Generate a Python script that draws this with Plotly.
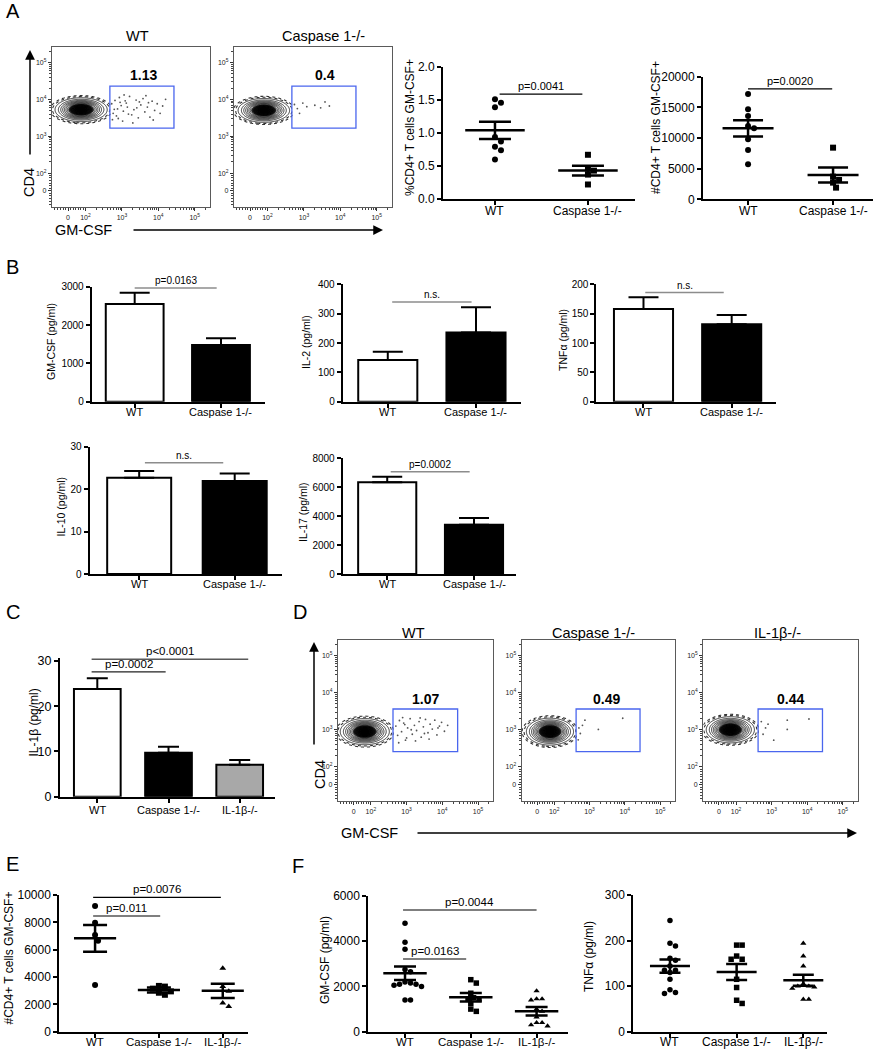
import math
import plotly.graph_objects as go

W, H = 878, 1050
FONT = "Liberation Sans, Arial, Helvetica, sans-serif"

# ============================ DATA ============================
groups2 = ["WT", "Caspase 1-/-"]
groups3 = ["WT", "Caspase 1-/-", "IL-1β-/-"]

# ---- flow cytometry scale (log10 display units of biexponential axis)
flow_tick_vals = [1.52, 2, 3, 4, 5]
flow_tick_text = ["0", "10<sup>2</sup>", "10<sup>3</sup>", "10<sup>4</sup>", "10<sup>5</sup>"]

# ---- A: flow plots
flowA_titles = ["WT", "Caspase 1-/-"]
flowA_percent = ["1.13", "0.4"]
flowA_gate = [2.67, 4.43, 3.22, 4.36]
flowA_pop_center = [[1.88, 3.72], [1.90, 3.70]]
flowA_pop_half = [[0.73, 0.33], [0.72, 0.33]]
flowA_wt_x = [2.72, 2.76, 2.81, 2.74, 2.88, 2.93, 2.85, 2.98, 3.04, 3.09, 3.02, 3.15, 3.21, 3.27,
              3.12, 3.33, 3.39, 3.45, 3.30, 3.52, 3.58, 3.63, 3.48, 3.70, 3.77, 3.83, 3.66, 3.90,
              3.97, 4.05, 3.86, 4.12, 4.20, 2.79, 2.95, 3.18, 3.41, 3.73, 2.90, 3.06]
flowA_wt_y = [3.88, 3.62, 3.97, 3.45, 3.74, 4.05, 3.55, 3.83, 3.68, 3.96, 3.41, 3.79, 4.08, 3.58,
              3.90, 3.72, 3.98, 3.50, 3.36, 3.85, 4.02, 3.66, 3.93, 3.79, 3.52, 3.95, 4.10, 3.70,
              3.88, 3.62, 3.44, 3.82, 4.00, 3.73, 3.92, 3.60, 3.77, 3.91, 3.48, 4.12]
flowA_casp_x = [2.74, 2.82, 2.97, 3.08, 3.30, 3.46, 3.58, 3.70, 2.88]
flowA_casp_y = [3.86, 3.75, 3.90, 3.80, 3.84, 3.77, 3.93, 3.82, 3.62]

# ---- A: % CD4+ T cells GM-CSF+
a_pct_wt = [1.51, 1.46, 1.39, 0.94, 0.87, 0.79, 0.74, 0.60]
a_pct_casp = [0.67, 0.46, 0.43, 0.37, 0.22]
a_pct_mean = [1.04, 0.43]
a_pct_sem = [0.13, 0.075]
a_pct_ticks = [0.0, 0.5, 1.0, 1.5, 2.0]
a_pct_bracket = [0.05, 0.94, 1.59, "p=0.0041"]

# ---- A: # CD4+ T cells GM-CSF+
a_num_wt = [17174, 14674, 13587, 11957, 11576, 9783, 8043, 5707]
a_num_casp = [8424, 3696, 3152, 2717, 1902]
a_num_mean = [11576, 3967]
a_num_sem = [1330, 1223]
a_num_ticks = [0, 5000, 10000, 15000, 20000]
a_num_bracket = [0.0, 0.99, 18000, "p=0.0020"]

# ---- B: cytokines (bars: mean, upper error)
b_gm_mean = [2548, 1478]
b_gm_err = [295, 174]
b_gm_ticks = [0, 1000, 2000, 3000]
b_gm_bracket = [0.0, 0.95, 2966, "p=0.0163"]

b_il2_mean = [142, 236]
b_il2_err = [28, 86]
b_il2_ticks = [0, 100, 200, 300, 400]
b_il2_bracket = [0.05, 0.95, 340, "n.s."]

b_tnf_mean = [158, 132]
b_tnf_err = [20, 16]
b_tnf_ticks = [0, 50, 100, 150, 200]
b_tnf_bracket = [0.02, 0.91, 186, "n.s."]

b_il10_mean = [22.7, 21.9]
b_il10_err = [1.6, 1.8]
b_il10_ticks = [0, 10, 20, 30]
b_il10_bracket = [0.06, 0.88, 26.2, "n.s."]

b_il17_mean = [6340, 3412]
b_il17_err = [392, 461]
b_il17_ticks = [0, 2000, 4000, 6000, 8000]
b_il17_bracket = [0.04, 0.95, 7074, "p=0.0002"]

# ---- C: IL-1beta
c_mean = [23.8, 9.73, 7.07]
c_err = [2.4, 1.32, 1.03]
c_ticks = [0, 10, 20, 30]
c_brackets = [[-0.08, 0.96, 27.6, "p=0.0002"], [-0.08, 2.12, 30.4, "p<0.0001"]]

# ---- D: flow plots
flowD_titles = ["WT", "Caspase 1-/-", "IL-1β-/-"]
flowD_percent = ["1.07", "0.49", "0.44"]
flowD_gate = [2.62, 4.43, 2.41, 3.56]
flowD_pop_center = [[1.83, 2.95], [1.88, 2.95], [1.84, 3.00]]
flowD_pop_half = [[0.70, 0.36], [0.68, 0.37], [0.69, 0.36]]
flowD_wt_x = [2.70, 2.75, 2.80, 2.86, 2.92, 2.97, 3.03, 3.10, 3.16, 3.22, 3.28, 3.35, 3.41, 3.47,
              3.53, 3.60, 3.66, 3.72, 3.79, 3.85, 3.92, 3.98, 4.06, 4.15, 2.78, 2.89, 3.00, 3.13,
              3.25, 3.38, 3.50, 3.63, 3.88, 2.95]
flowD_wt_y = [3.10, 2.85, 3.25, 2.95, 3.18, 2.72, 3.05, 3.30, 2.88, 3.12, 2.98, 3.22, 2.80, 3.08,
              3.28, 2.92, 3.15, 3.02, 3.26, 2.86, 3.10, 3.20, 2.96, 3.12, 2.65, 3.33, 2.78, 3.00,
              2.70, 3.32, 2.90, 2.75, 3.05, 3.14]
flowD_casp_x = [2.70, 2.74, 2.87, 2.80, 3.25, 3.94, 2.68]
flowD_casp_y = [3.05, 2.90, 3.26, 3.12, 3.01, 3.31, 2.73]
flowD_il1b_x = [2.71, 2.83, 3.06, 3.44, 3.44, 4.05, 2.76, 2.90]
flowD_il1b_y = [3.22, 3.05, 2.72, 3.26, 3.01, 3.29, 2.88, 3.15]

# ---- E: # CD4+ T cells GM-CSF+
e_wt = [9195, 7976, 7073, 6659, 3415]
e_casp = [3350, 3300, 3150, 2950, 2850, 2700]
e_il1b = [4650, 3300, 2950, 2100, 1850]
e_mean = [6829, 3049, 2990]
e_sem = [975, 190, 525]
e_ticks = [0, 2000, 4000, 6000, 8000, 10000]
e_brackets = [[-0.03, 1.02, 8464, "p=0.011"], [-0.03, 1.97, 9832, "p=0.0076"]]

# ---- F: GM-CSF and TNFa
f_gm_wt = [4800, 3950, 3650, 2750, 2650, 2200, 2150, 2100, 2100, 2050, 2000, 1400, 1400]
f_gm_casp = [2300, 2150, 1700, 1500, 1450, 1450, 1250, 1000, 900]
f_gm_il1b = [1800, 1450, 1450, 1400, 1000, 900, 650, 400, 400, 300, 250]
f_gm_mean = [2583, 1522, 903]
f_gm_sem = [295, 186, 184]
f_gm_ticks = [0, 2000, 4000, 6000]
f_gm_brackets = [[-0.03, 0.93, 3214, "p=0.0163"], [-0.03, 2.0, 5381, "p=0.0044"]]

f_tnf_wt = [244, 194, 188, 161, 157, 144, 135, 135, 130, 115, 92, 86, 84]
f_tnf_casp = [190, 190, 166, 159, 159, 115, 97, 69, 62]
f_tnf_il1b = [194, 166, 144, 105, 100, 100, 98, 95, 71, 71]
f_tnf_mean = [144, 131, 113]
f_tnf_sem = [14.6, 17.5, 12]
f_tnf_ticks = [0, 100, 200, 300]

# ============================ HELPERS ============================
fig = go.Figure()
layout = {}
shapes = []
annotations = []


def ids(i):
    s = "" if i == 1 else str(i)
    return "xaxis" + s, "yaxis" + s, "x" + s, "y" + s


def paper_text(xp, yp, text, size, angle=0, bold=False, color="black"):
    if bold:
        text = "<b>" + text + "</b>"
    annotations.append(dict(xref="paper", yref="paper", x=xp / W, y=1 - yp / H, text=text,
                            textangle=angle, showarrow=False, xanchor="center", yanchor="middle",
                            font=dict(family=FONT, size=size, color=color)))


def arrow(x_head, y_head, x_tail, y_tail):
    annotations.append(dict(xref="paper", yref="paper", x=x_head / W, y=1 - y_head / H,
                            ax=x_tail - x_head, ay=y_tail - y_head, axref="pixel", ayref="pixel",
                            text="", showarrow=True, arrowhead=2, arrowsize=1.3, arrowwidth=1.5,
                            arrowcolor="black"))


def stat_axes(i, box, xr, yr, yticks, ytext, cats, tfs, cfs, cat_gap):
    xa, ya, xn, yn = ids(i)
    L, R, T, B = box
    base = dict(showgrid=False, zeroline=False, showline=True, linecolor="black", linewidth=2,
                ticks="outside", ticklen=4, tickwidth=1.5, tickcolor="black", fixedrange=True,
                automargin=False)
    layout[xa] = dict(base, domain=[L / W, R / W], range=xr, anchor=yn, tickmode="array",
                      tickvals=list(range(len(cats))), showticklabels=False)
    layout[ya] = dict(base, domain=[1 - B / H, 1 - T / H], range=yr, anchor=xn, tickmode="array",
                      tickvals=yticks, ticktext=ytext,
                      tickfont=dict(family=FONT, size=tfs, color="black"))
    # category labels under the axis
    for ci, c in enumerate(cats):
        annotations.append(dict(xref=xn, yref="paper", x=ci, y=1 - (B + cat_gap) / H, text=c,
                                showarrow=False, xanchor="center", yanchor="middle",
                                font=dict(family=FONT, size=cfs, color="black")))
    return xn, yn


def bracket(xn, yn, br, color, fs, lw=1.2):
    x0, x1, yv, label = br
    shapes.append(dict(type="line", xref=xn, yref=yn, x0=x0, x1=x1, y0=yv, y1=yv,
                       line=dict(color=color, width=lw)))
    annotations.append(dict(xref=xn, yref=yn, x=(x0 + x1) / 2, y=yv, text=label, showarrow=False,
                            yanchor="bottom", xanchor="center", yshift=0,
                            font=dict(family=FONT, size=fs, color="black")))


def bars(xn, yn, means, errs, colors, width, cap):
    fig.add_trace(go.Bar(x=list(range(len(means))), y=means, width=width,
                         marker=dict(color=colors, line=dict(color="black", width=2)),
                         error_y=dict(type="data", symmetric=False, array=errs,
                                      arrayminus=[0] * len(means), color="black",
                                      thickness=2, width=cap),
                         xaxis=xn, yaxis=yn, showlegend=False, hoverinfo="skip"))


def swarm_offsets(values, ppy, d):
    placed, out = [], []
    for v in values:
        yp = v * ppy
        cands = [0.0]
        for j in range(1, 10):
            cands += [j * d * 0.5, -j * d * 0.5]
        for c in cands:
            if all((c - a) ** 2 + (yp - b) ** 2 >= (d * 0.95) ** 2 for a, b in placed):
                break
        placed.append((c, yp))
        out.append(c)
    return out


def dots(xn, yn, box, xr, yr, series, symbols, size, means, sems, half, cap):
    L, R, T, B = box
    ppx = (R - L) / (xr[1] - xr[0])
    ppy = (B - T) / (yr[1] - yr[0])
    for gi, vals in enumerate(series):
        offs = swarm_offsets(vals, ppy, size)
        fig.add_trace(go.Scatter(x=[gi + o / ppx for o in offs], y=vals, mode="markers",
                                 marker=dict(symbol=symbols[gi], size=size, color="black",
                                             line=dict(width=0)),
                                 xaxis=xn, yaxis=yn, showlegend=False, hoverinfo="skip",
                                 cliponaxis=False))
    lx, ly = [], []
    for gi, m in enumerate(means):
        lx += [gi - half, gi + half, None]
        ly += [m, m, None]
    fig.add_trace(go.Scatter(x=lx, y=ly, mode="lines", line=dict(color="black", width=2.5),
                             xaxis=xn, yaxis=yn, showlegend=False, hoverinfo="skip"))
    fig.add_trace(go.Scatter(x=list(range(len(means))), y=means, mode="markers",
                             marker=dict(size=1, color="rgba(0,0,0,0)"),
                             error_y=dict(type="data", array=sems, color="black", thickness=2.5,
                                          width=cap),
                             xaxis=xn, yaxis=yn, showlegend=False, hoverinfo="skip"))


flow_minor_vals = [1.15, 1.24, 1.32, 1.39, 1.45, 1.59, 1.66, 1.73, 1.80, 1.87, 1.94] + \
    [k + math.log10(m) for k in (2, 3, 4) for m in range(2, 10)] + [5 + math.log10(2)]
FLOW_RANGE = [1.08, 5.42]
CORE_SCALE = [[0, "rgba(255,255,255,0)"], [0.52, "rgba(255,255,255,0)"],
              [0.62, "rgba(30,30,30,0.95)"], [1, "black"]]


def flow_panel(i, box, title, title_x, title_y, pct, pct_xy, gate, center, half, gx, gy):
    xa, ya, xn, yn = ids(i)
    L, R, T, B = box
    ax = dict(range=FLOW_RANGE, showgrid=False, zeroline=False, showline=True, mirror=True,
              linecolor="#5a5a5a", linewidth=1.3, ticks="outside", ticklen=3, tickwidth=1,
              tickcolor="#333", tickmode="array", tickvals=flow_tick_vals, ticktext=flow_tick_text,
              tickfont=dict(family=FONT, size=7, color="#222"),
              minor=dict(tickmode="array", tickvals=flow_minor_vals, ticks="outside", ticklen=2,
                         tickwidth=0.8, tickcolor="#444"),
              fixedrange=True, automargin=False)
    layout[xa] = dict(ax, domain=[L / W, R / W], anchor=yn)
    layout[ya] = dict(ax, domain=[1 - B / H, 1 - T / H], anchor=xn)
    cx, cy = center
    hx, hy = half
    nx, ny = 130, 90
    x_hi = min(gate[0] + 0.02, cx + 1.4 * hx)
    xs = [FLOW_RANGE[0] + k * (x_hi - FLOW_RANGE[0]) / (nx - 1) for k in range(nx)]
    ys = [cy - 1.4 * hy + k * 2.8 * hy / (ny - 1) for k in range(ny)]
    z = [[math.exp(-2.5 * (((x - cx) / hx) ** 2 + ((y - cy) / hy) ** 2)) for x in xs] for y in ys]
    # speckled rim around the population
    fig.add_trace(go.Contour(x=xs, y=ys, z=z, zmin=0, zmax=1,
                             contours=dict(coloring="lines", start=0.035, end=0.06, size=0.02,
                                           showlabels=False),
                             line=dict(width=1.1, color="#333", dash="dot"),
                             colorscale=[[0, "#333"], [1, "#333"]], showscale=False,
                             hoverinfo="skip", xaxis=xn, yaxis=yn))
    # contour lines with dark core
    fig.add_trace(go.Contour(x=xs, y=ys, z=z, zmin=0, zmax=1, zauto=False,
                             contours=dict(coloring="fill", start=0.09, end=0.95, size=0.07,
                                           showlabels=False),
                             line=dict(width=0.8, color="black"),
                             colorscale=CORE_SCALE, showscale=False,
                             hoverinfo="skip", xaxis=xn, yaxis=yn))
    fig.add_trace(go.Scatter(x=gx, y=gy, mode="markers",
                             marker=dict(size=1.8, color="#555", line=dict(width=0)),
                             xaxis=xn, yaxis=yn, showlegend=False, hoverinfo="skip"))
    shapes.append(dict(type="rect", xref=xn, yref=yn, x0=gate[0], x1=gate[1], y0=gate[2], y1=gate[3],
                       line=dict(color="#4a66ee", width=1.3)))
    annotations.append(dict(xref=xn, yref=yn, x=pct_xy[0], y=pct_xy[1], text="<b>" + pct + "</b>",
                            showarrow=False, font=dict(family=FONT, size=14, color="black")))
    paper_text(title_x, title_y, title, 14.5)


# ============================ PANEL A ============================
paper_text(13, 11, "A", 20)
A_boxes = [(52, 210, 47, 207), (234, 392, 47, 207)]
A_titles_x = [137.5, 323]
A_gx = [flowA_wt_x, flowA_casp_x]
A_gy = [flowA_wt_y, flowA_casp_y]
for k in range(2):
    flow_panel(1 + k, A_boxes[k], flowA_titles[k], A_titles_x[k], 36, flowA_percent[k],
               (3.59, 4.66), flowA_gate, flowA_pop_center[k], flowA_pop_half[k], A_gx[k], A_gy[k])
paper_text(29, 183, "CD4", 14.5, angle=-90)
arrow(30, 50, 30, 156)
paper_text(83, 230, "GM-CSF", 14.5)
arrow(383, 230, 132, 230)

box3 = (443, 635, 67, 199)
xr3, yr3 = [-0.559, 1.506], [0, 2.0]
xn, yn = stat_axes(3, box3, xr3, yr3, a_pct_ticks, [f"{v:.1f}" for v in a_pct_ticks], groups2,
                   12, 12, 11.5)
dots(xn, yn, box3, xr3, yr3, [a_pct_wt, a_pct_casp], ["circle", "square"], 6, a_pct_mean,
     a_pct_sem, 0.32, 16)
bracket(xn, yn, a_pct_bracket, "black", 11)
paper_text(410, 128, "%CD4+ T cells GM-CSF+", 12, angle=-90)

box4 = (703, 873, 76.7, 199.3)
xr4, yr4 = [-0.53, 1.47], [0, 20000]
xn, yn = stat_axes(4, box4, xr4, yr4, a_num_ticks, [str(v) for v in a_num_ticks], groups2,
                   12, 12, 11.5)
dots(xn, yn, box4, xr4, yr4, [a_num_wt, a_num_casp], ["circle", "square"], 6, a_num_mean,
     a_num_sem, 0.30, 15)
bracket(xn, yn, a_num_bracket, "black", 11)
paper_text(656, 128, "#CD4+ T cells GM-CSF+", 12, angle=-90)

# ============================ PANEL B ============================
paper_text(12.5, 267, "B", 20)
BAR_COLORS2 = ["white", "black"]
b_specs = [
    (5, (91.7, 265, 286.7, 401.7), [-0.498, 1.51], [0, 3000], b_gm_ticks, b_gm_mean, b_gm_err,
     b_gm_bracket, "GM-CSF (pg/ml)", (51, 342)),
    (6, (342.7, 520.8, 284.4, 401.7), [-0.511, 1.508], [0, 400], b_il2_ticks, b_il2_mean,
     b_il2_err, b_il2_bracket, "IL-2 (pg/ml)", (306, 342)),
    (7, (596.4, 775.6, 284.4, 401.7), [-0.534, 1.498], [0, 200], b_tnf_ticks, b_tnf_mean,
     b_tnf_err, b_tnf_bracket, "TNFα (pg/ml)", (563, 340)),
    (8, (89.6, 281.7, 446.7, 574), [-0.519, 1.492], [0, 30], b_il10_ticks, b_il10_mean,
     b_il10_err, b_il10_bracket, "IL-10 (pg/ml)", (60.5, 507)),
    (9, (342.7, 516, 458.3, 574), [-0.513, 1.484], [0, 8000], b_il17_ticks, b_il17_mean,
     b_il17_err, b_il17_bracket, "IL-17 (pg/ml)", (303, 512)),
]
for (i, box, xr, yr, ticks, means, errs, br, ylab, labxy) in b_specs:
    xn, yn = stat_axes(i, box, xr, yr, ticks, [str(v) for v in ticks], groups2, 10, 11, 10)
    bars(xn, yn, means, errs, BAR_COLORS2, 0.67, 15)
    bracket(xn, yn, br, "#8c8c8c", 10, lw=1.5)
    paper_text(labxy[0], labxy[1], ylab, 10.5, angle=-90)

# ============================ PANEL C ============================
paper_text(13, 612, "C", 20)
box10 = (60, 275, 658.3, 796.7)
xn, yn = stat_axes(10, box10, [-0.524, 2.496], [0, 30.6], c_ticks, [str(v) for v in c_ticks],
                   groups3, 12.5, 11, 13.5)
bars(xn, yn, c_mean, c_err, ["white", "black", "#a8a8a8"], 0.656, 10.5)
for br in c_brackets:
    bracket(xn, yn, br, "#222", 11.5)
paper_text(33.5, 723, "IL-1β (pg/ml)", 12, angle=-90)

# ============================ PANEL D ============================
paper_text(300, 612, "D", 20)
D_boxes = [(338, 493, 640, 801), (521.7, 675, 640, 801), (703.3, 857.7, 640, 801)]
D_titles_x = [413.3, 593, 777]
D_pct_x = [3.52, 3.49, 3.54]
D_gx = [flowD_wt_x, flowD_casp_x, flowD_il1b_x]
D_gy = [flowD_wt_y, flowD_casp_y, flowD_il1b_y]
for k in range(3):
    flow_panel(11 + k, D_boxes[k], flowD_titles[k], D_titles_x[k], 633, flowD_percent[k],
               (D_pct_x[k], 3.83), flowD_gate, flowD_pop_center[k], flowD_pop_half[k],
               D_gx[k], D_gy[k])
paper_text(320, 775, "CD4", 14.5, angle=-90)
arrow(314, 642, 314, 746)
paper_text(369, 833, "GM-CSF", 14.5)
arrow(857, 833, 416, 833)

# ============================ PANEL E ============================
paper_text(12, 864, "E", 20)
box14 = (59.3, 248.3, 895, 1031.7)
xr14, yr14 = [-0.56, 2.40], [0, 10000]
xn, yn = stat_axes(14, box14, xr14, yr14, e_ticks, [str(v) for v in e_ticks], groups3,
                   12, 11.5, 10.5)
dots(xn, yn, box14, xr14, yr14, [e_wt, e_casp, e_il1b], ["circle", "square", "triangle-up"], 6,
     e_mean, e_sem, 0.33, 12)
for br in e_brackets:
    bracket(xn, yn, br, "black", 11.5)
paper_text(8.5, 958, "#CD4+ T cells GM-CSF+", 12, angle=-90)

# ============================ PANEL F ============================
paper_text(298, 866, "F", 20)
box15 = (368.3, 568.3, 896, 1031.7)
xr15, yr15 = [-0.558, 2.482], [0, 6000]
xn, yn = stat_axes(15, box15, xr15, yr15, f_gm_ticks, [str(v) for v in f_gm_ticks], groups3,
                   12, 11.5, 10.5)
dots(xn, yn, box15, xr15, yr15, [f_gm_wt, f_gm_casp, f_gm_il1b],
     ["circle", "square", "triangle-up"], 5.5, f_gm_mean, f_gm_sem, 0.33, 11)
for br in f_gm_brackets:
    bracket(xn, yn, br, "black", 11.5)
paper_text(325, 960, "GM-CSF (pg/ml)", 12, angle=-90)

box16 = (633.3, 827.3, 895, 1031.7)
xr16, yr16 = [-0.55, 2.36], [0, 300]
xn, yn = stat_axes(16, box16, xr16, yr16, f_tnf_ticks, [str(v) for v in f_tnf_ticks], groups3,
                   12, 12, 10.5)
dots(xn, yn, box16, xr16, yr16, [f_tnf_wt, f_tnf_casp, f_tnf_il1b],
     ["circle", "square", "triangle-up"], 5.5, f_tnf_mean, f_tnf_sem, 0.30, 10.5)
paper_text(589, 957, "TNFα (pg/ml)", 12, angle=-90)

# ============================ LAYOUT ============================
fig.update_layout(width=W, height=H, margin=dict(l=0, r=0, t=0, b=0, pad=0, autoexpand=False),
                  paper_bgcolor="white", plot_bgcolor="white", showlegend=False,
                  font=dict(family=FONT, color="black"),
                  shapes=shapes, annotations=annotations, **layout)
fig.write_html("out.html", config={"displayModeBar": False, "responsive": False},
               post_script="document.body.style.margin='0px';document.body.style.padding='0px';")
